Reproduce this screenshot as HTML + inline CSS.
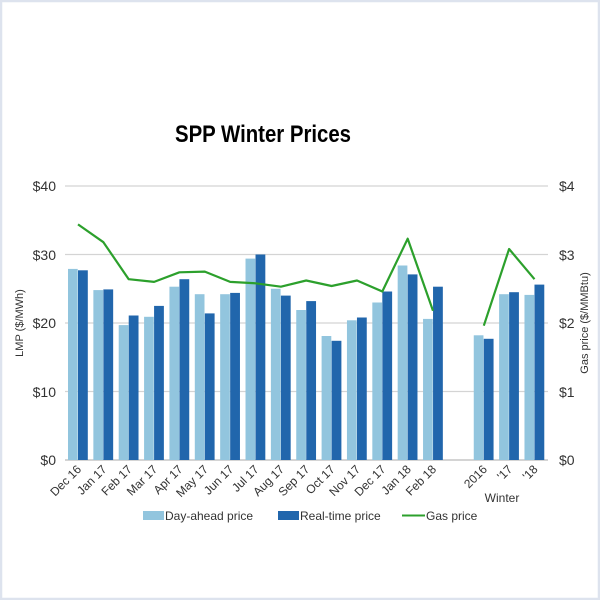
<!DOCTYPE html>
<html><head><meta charset="utf-8"><style>
html,body{margin:0;padding:0;background:#fff}
svg{display:block;font-family:"Liberation Sans",sans-serif}
</style></head><body>
<svg width="600" height="600" viewBox="0 0 600 600">
<rect x="1" y="1" width="598" height="598" fill="#fff" stroke="#dde3ee" stroke-width="2.5"/>
<text x="263" y="142" text-anchor="middle" font-size="24" font-weight="bold" fill="#000" textLength="176" lengthAdjust="spacingAndGlyphs">SPP Winter Prices</text>
<g stroke="#d4d4d4" stroke-width="1.2">
<line x1="65" y1="186" x2="548" y2="186"/><line x1="65" y1="254.5" x2="548" y2="254.5"/>
<line x1="65" y1="323" x2="548" y2="323"/><line x1="65" y1="391.5" x2="548" y2="391.5"/>
<line x1="65" y1="460" x2="548" y2="460" stroke="#bbb"/>
</g>
<g font-size="14" fill="#333" text-anchor="end">
<text x="56" y="191">$40</text><text x="56" y="260">$30</text><text x="56" y="328">$20</text><text x="56" y="397">$10</text><text x="56" y="465">$0</text>
</g>
<g font-size="14" fill="#333">
<text x="559" y="191">$4</text><text x="559" y="260">$3</text><text x="559" y="328">$2</text><text x="559" y="397">$1</text><text x="559" y="465">$0</text>
</g>
<text transform="translate(23,323) rotate(-90)" font-size="11" fill="#333" text-anchor="middle">LMP ($/MWh)</text>
<text transform="translate(588,323) rotate(-90)" font-size="11" fill="#333" text-anchor="middle">Gas price ($/MMBtu)</text>
<g fill="#92c5de">
<rect x="68" y="268.9" width="9.7" height="191.1"/><rect x="93.36" y="290.1" width="9.7" height="169.9"/>
<rect x="118.72" y="325.1" width="9.7" height="134.9"/><rect x="144.08" y="316.8" width="9.7" height="143.2"/>
<rect x="169.44" y="286.7" width="9.7" height="173.3"/><rect x="194.8" y="294.2" width="9.7" height="165.8"/>
<rect x="220.16" y="294.2" width="9.7" height="165.8"/><rect x="245.52" y="258.6" width="9.7" height="201.4"/>
<rect x="270.88" y="288.75" width="9.7" height="171.25"/><rect x="296.24" y="310" width="9.7" height="150"/>
<rect x="321.6" y="336" width="9.7" height="124"/><rect x="346.96" y="320.3" width="9.7" height="139.7"/>
<rect x="372.32" y="302.5" width="9.7" height="157.5"/><rect x="397.68" y="265.5" width="9.7" height="194.5"/>
<rect x="423.04" y="318.9" width="9.7" height="141.1"/><rect x="473.76" y="335.3" width="9.7" height="124.7"/>
<rect x="499.12" y="294.2" width="9.7" height="165.8"/><rect x="524.48" y="294.9" width="9.7" height="165.1"/>
</g>
<g fill="#2166ac">
<rect x="78" y="270.3" width="9.8" height="189.7"/><rect x="103.36" y="289.4" width="9.8" height="170.6"/>
<rect x="128.72" y="315.5" width="9.8" height="144.5"/><rect x="154.08" y="305.9" width="9.8" height="154.1"/>
<rect x="179.44" y="279.2" width="9.8" height="180.8"/><rect x="204.8" y="313.4" width="9.8" height="146.6"/>
<rect x="230.16" y="292.9" width="9.8" height="167.1"/><rect x="255.52" y="254.5" width="9.8" height="205.5"/>
<rect x="280.88" y="295.6" width="9.8" height="164.4"/><rect x="306.24" y="301.1" width="9.8" height="158.9"/>
<rect x="331.6" y="340.8" width="9.8" height="119.2"/><rect x="356.96" y="317.5" width="9.8" height="142.5"/>
<rect x="382.32" y="291.5" width="9.8" height="168.5"/><rect x="407.68" y="274.4" width="9.8" height="185.6"/>
<rect x="433.04" y="286.7" width="9.8" height="173.3"/><rect x="483.76" y="338.8" width="9.8" height="121.2"/>
<rect x="509.12" y="292.2" width="9.8" height="167.8"/><rect x="534.48" y="284.6" width="9.8" height="175.4"/>
</g>
<g fill="none" stroke="#2ca02c" stroke-width="2.2" stroke-linejoin="round">
<polyline points="78,224.4 103.4,242.2 128.7,279.2 154.1,281.9 179.4,272.3 204.8,271.6 230.2,281.9 255.5,283.3 280.9,286.7 306.2,280.5 331.6,286 357,280.5 382.3,291.5 407.7,238.7 433,310.7"/>
<polyline points="483.8,325.7 509.1,249 534.5,279.2"/>
</g>
<g font-size="12" fill="#333" text-anchor="end">
<text transform="translate(82,470) rotate(-45)">Dec 16</text>
<text transform="translate(107.4,470) rotate(-45)">Jan 17</text>
<text transform="translate(132.7,470) rotate(-45)">Feb 17</text>
<text transform="translate(158.1,470) rotate(-45)">Mar 17</text>
<text transform="translate(183.4,470) rotate(-45)">Apr 17</text>
<text transform="translate(208.8,470) rotate(-45)">May 17</text>
<text transform="translate(234.2,470) rotate(-45)">Jun 17</text>
<text transform="translate(259.5,470) rotate(-45)">Jul 17</text>
<text transform="translate(284.9,470) rotate(-45)">Aug 17</text>
<text transform="translate(310.2,470) rotate(-45)">Sep 17</text>
<text transform="translate(335.6,470) rotate(-45)">Oct 17</text>
<text transform="translate(361,470) rotate(-45)">Nov 17</text>
<text transform="translate(386.3,470) rotate(-45)">Dec 17</text>
<text transform="translate(411.7,470) rotate(-45)">Jan 18</text>
<text transform="translate(437,470) rotate(-45)">Feb 18</text>
<text transform="translate(487.8,470) rotate(-45)">2016</text>
<text transform="translate(513.1,470) rotate(-45)">'17</text>
<text transform="translate(538.5,470) rotate(-45)">'18</text>
</g>
<text x="502" y="502" font-size="12" fill="#333" text-anchor="middle">Winter</text>
<g font-size="12" fill="#333">
<rect x="143" y="511" width="21" height="9" fill="#92c5de"/><text x="165" y="520">Day-ahead price</text>
<rect x="278" y="511" width="21" height="9" fill="#2166ac"/><text x="300" y="520">Real-time price</text>
<line x1="402" y1="515.5" x2="425" y2="515.5" stroke="#2ca02c" stroke-width="2"/><text x="426" y="520">Gas price</text>
</g>
</svg>
</body></html>
